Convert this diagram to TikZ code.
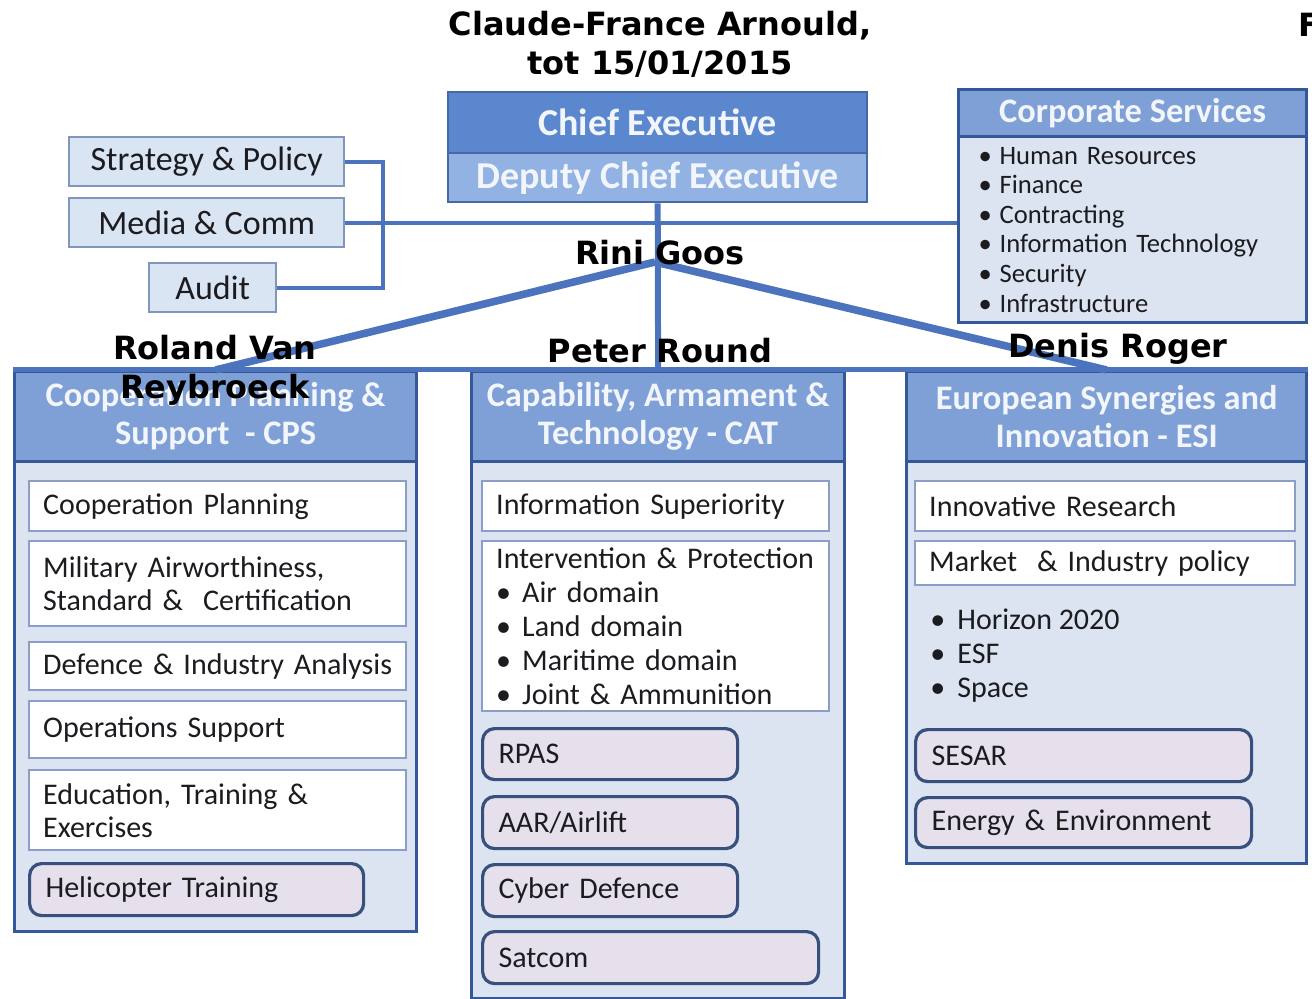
\documentclass[tikz,border=0pt]{standalone}
\usepackage{fontspec}
\setmainfont{Carlito}
\newfontfamily\namefont{DejaVu Sans}
\definecolor{linkblue}{RGB}{76,116,190}
\definecolor{ceblue}{RGB}{90,135,205}
\definecolor{depblue}{RGB}{145,178,226}
\definecolor{ceedge}{RGB}{70,105,165}
\definecolor{headblue}{RGB}{126,160,215}
\definecolor{headtext}{RGB}{242,245,251}
\definecolor{bodyfill}{RGB}{220,228,241}
\definecolor{darkedge}{RGB}{52,88,152}
\definecolor{itemedge}{RGB}{138,158,200}
\definecolor{smallfill}{RGB}{218,229,243}
\definecolor{smalledge}{RGB}{128,150,188}
\definecolor{pillfill}{RGB}{229,224,236}
\definecolor{pilledge}{RGB}{55,80,125}
\definecolor{inktext}{RGB}{28,28,32}
\usetikzlibrary{calc}

\tikzset{
	size/.style 2 args={minimum width=#1*0.5pt, minimum height=#2*0.5pt},
	cebox/.style={draw=ceedge, line width=1.2pt, anchor=north west, inner sep=0pt, text=headtext, font=\fontsize{19}{21}\selectfont\bfseries},
	smallbox/.style={draw=smalledge, line width=1.2pt, fill=smallfill, anchor=north west, inner sep=0pt, text=inktext, font=\fontsize{17}{19}\selectfont},
	colbody/.style={draw=darkedge, line width=1.6pt, fill=bodyfill, anchor=north west, inner sep=0pt},
	colhead/.style={draw=darkedge, line width=1.6pt, fill=headblue, anchor=north west, inner sep=0pt, align=center, text=headtext, font=\fontsize{17.2}{19}\selectfont\bfseries},
	item/.style 2 args={draw=itemedge, line width=1.2pt, fill=white, anchor=north west, align=left, inner xsep=7pt, inner ysep=0pt, text width=#1*0.5pt-14pt, minimum height=#2*0.5pt, text=inktext, font=\fontsize{15}{16.5}\selectfont},
	pill/.style 2 args={draw=pilledge, line width=1.6pt, fill=pillfill, rounded corners=6pt, anchor=north west, align=left, inner xsep=8pt, inner ysep=0pt, text width=#1*0.5pt-16pt, minimum height=#2*0.5pt, text=inktext, font=\fontsize{15}{16.5}\selectfont},
	link/.style={draw=linkblue, line width=2.5pt},
	who/.style={text=black, font=\namefont\fontsize{16}{19.5}\selectfont\bfseries, align=center, inner sep=0pt},
}
\newcommand{\bul}[1]{\makebox[#1][l]{\textbullet}}

\begin{document}
\begin{tikzpicture}[x=0.5pt,y=-0.5pt]
	%%%%% START %%%%%
	\useasboundingbox (0,0) rectangle (1312,999);
	
	% top
	\node[cebox, fill=ceblue, size={419}{61}] (chief) at (447,91) {Chief Executive};
	\node[cebox, fill=depblue, size={419}{49}] (deputy) at (447,152) {Deputy Chief Executive};
	
	\node[smallbox, size={275}{49}] (strategy) at (68,136) {Strategy \& Policy};
	\node[smallbox, size={275}{49}] (media) at (68,197) {Media \& Comm};
	\node[smallbox, size={127}{49}] (audit) at (148,262) {Audit};
	
	\node[colbody, size={348}{186}, align=left, inner xsep=10pt, text width=154pt, text=inktext, font=\fontsize{13.3}{14.8}\selectfont] (corpbody) at (957,135) {%
		\bul{10.5pt}Human Resources\\
		\bul{10.5pt}Finance\\
		\bul{10.5pt}Contracting\\
		\bul{10.5pt}Information Technology\\
		\bul{10.5pt}Security\\
		\bul{10.5pt}Infrastructure};
	\node[colhead, size={348}{47}] (corphead) at (957,88) {Corporate Services};
	
	% columns
	\node[colbody, size={402}{560}] (cpsbody) at (13,370) {};
	\node[colhead, size={402}{90}] (cpshead) at (13,370) {Cooperation Planning \&\\Support~ - CPS};
	\node[colbody, size={373}{627}] (catbody) at (470,370) {};
	\node[colhead, size={373}{90}] (cathead) at (470,370) {Capability, Armament \&\\Technology - CAT};
	\node[colbody, size={400}{492}] (esibody) at (905,370) {};
	\node[colhead, size={400}{90}] (esihead) at (905,370) {European Synergies and\\Innovation - ESI};
	
	\node[item={377}{50}] (coopplan) at (28,480) {Cooperation Planning};
	\node[item={377}{85}] (airworth) at (28,540) {Military Airworthiness,\\Standard \&~ Certification};
	\node[item={377}{48}] (defind) at (28,641) {Defence \& Industry Analysis};
	\node[item={377}{57}] (opsup) at (28,700) {Operations Support};
	\node[item={377}{80}] (edutrain) at (28,769) {Education, Training \&\\Exercises};
	\node[pill={334}{52}] (helitrain) at (28,862) {Helicopter Training};
	
	\node[item={347}{50}] (infosup) at (481,480) {Information Superiority};
	\node[item={347}{170}, font=\fontsize{15}{17}\selectfont] (interprot) at (481,540) {Intervention \& Protection\\
		\bul{13pt}Air domain\\
		\bul{13pt}Land domain\\
		\bul{13pt}Maritime domain\\
		\bul{13pt}Joint \& Ammunition};
	\node[pill={255}{51}] (rpas) at (481,727) {RPAS};
	\node[pill={255}{52}] (aar) at (481,795) {AAR/Airlift};
	\node[pill={255}{52}] (cyber) at (481,863) {Cyber Defence};
	\node[pill={336}{52}] (satcom) at (481,930) {Satcom};
	
	\node[item={380}{50}] (innores) at (914,480) {Innovative Research};
	\node[item={380}{44}] (market) at (914,540) {Market~ \& Industry policy};
	\node[anchor=west, align=left, inner sep=0pt, text=inktext, font=\fontsize{15}{17}\selectfont] (esilist) at (930,656) {%
		\bul{13.5pt}Horizon 2020\\
		\bul{13.5pt}ESF\\
		\bul{13.5pt}Space};
	\node[pill={336}{52}] (sesar) at (914,728) {SESAR};
	\node[pill={336}{50}] (energy) at (914,796) {Energy \& Environment};
	
	% lines
	\coordinate (split) at (655,262);
	\coordinate (bend) at (383,222);
	\draw[link] (cpshead.north west) -- (esihead.north east);
	\draw[link, line width=2pt] (strategy.east) -- (strategy.east -| bend) -- (audit.east -| bend) -- (audit.east);
	\draw[link, line width=2pt] (media.east) -- (media.east -| corpbody.west);
	\draw[link, line width=3pt] (deputy.south) -- (cathead.north);
	\draw[link, line width=3.8pt] (split) -- (cpshead.north);
	\draw[link, line width=3.8pt] (split) -- (esihead.north);
	
	% names
	\node[who] (arnould) at (660,44) {Claude-France Arnould,\\tot 15/01/2015};
	\node[who, anchor=west] (fcut) at (1298,25) {F};
	\node[who] (goos) at (660,253) {Rini Goos};
	\node[who] (vanreybroeck) at (215,370) {Roland Van\\Reybroeck};
	\node[who] (round) at (660,351) {Peter Round};
	\node[who] (roger) at (1118,349) {Denis Roger};
	
	%%%%% END %%%%%
\end{tikzpicture}
\end{document}
